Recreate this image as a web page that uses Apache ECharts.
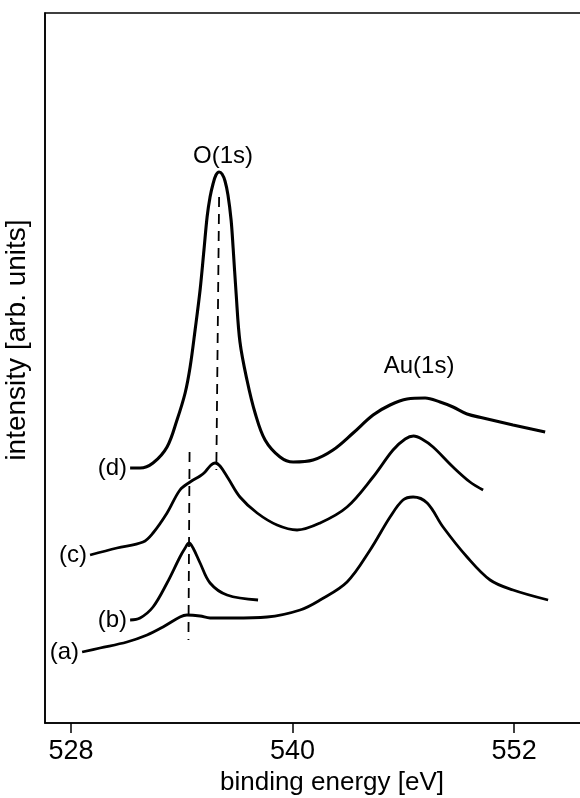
<!DOCTYPE html>
<html>
<head>
<meta charset="utf-8">
<script src="https://cdn.jsdelivr.net/npm/echarts@6/dist/echarts.min.js"></script>
<style>
  html, body { margin: 0; padding: 0; background: #fff; }
  #chart { width: 580px; height: 798px; }
</style>
</head>
<body>
<div id="chart"></div>
<script>
// binding energy [eV], intensity [arb. units]
const energyTicks = [528, 540, 552];

const curveD = [
  [531.20,255],[531.74,255],[532.44,260],[533.20,276],[533.74,303],[534.18,330],
  [534.45,356],[534.72,393],[534.99,433],[535.20,473],[535.37,506],[535.53,526],
  [535.69,539],[535.85,548],[536.02,551],[536.18,549],[536.34,542],[536.50,528],
  [536.67,503],[536.78,475],[536.94,430],[537.15,381],[537.53,343],[537.97,310],
  [538.51,283],[539.32,266],[540.03,261],[541.11,263],[542.19,273],[543.28,290],
  [544.36,308],[545.28,318],[546.20,324],[547.18,325],[547.99,321],[548.69,316],
  [549.45,309],[550.32,305],[551.94,298],[553.68,291]
];

const curveC = [
  [529.03,168],[530.49,175],[531.90,181],[532.44,190],[533.20,210],[533.90,233],
  [534.45,241],[534.99,247],[535.26,251],[535.53,257],[535.80,260],[536.07,257],
  [536.50,245],[537.15,226],[538.08,210],[539.16,198],[540.24,193],[541.49,200],
  [542.95,216],[544.36,246],[545.44,273],[546.10,284],[546.55,287],[547.00,284],
  [547.61,276],[548.69,256],[549.61,241],[550.32,233]
];

const curveB = [
  [531.20,103],[531.74,105],[532.44,116],[533.20,140],[533.90,166],[534.18,175],
  [534.39,180],[534.61,175],[534.99,160],[535.53,140],[536.45,128],[538.13,123]
];

const curveA = [
  [528.60,71],[529.57,75],[531.03,81],[532.12,88],[532.98,96],[533.90,106],
  [534.28,108],[534.99,107],[535.53,105],[536.78,105],[538.62,106],[540.41,113],
  [541.49,123],[542.95,141],[544.20,173],[545.28,206],[545.98,223],[546.53,226],
  [547.29,220],[548.15,196],[549.45,166],[550.70,143],[551.94,133],[553.84,123]
];

const dashLine1 = [[534.42,271],[534.36,83]];
const dashLine2 = [[536.02,526],[535.87,253]];

const curveNames = ['(a)', '(b)', '(c)', '(d)'];
const peakNames = ['O(1s)', 'Au(1s)'];
const peakPositions = [[536.23,567],[546.85,357]];

const FONT = 'Liberation Sans';
const chart = echarts.init(document.getElementById('chart'));

function curveSeries(name, data, width) {
  return {
    name: name,
    type: 'line',
    data: data,
    smooth: 0.35,
    showSymbol: false,
    symbol: 'none',
    lineStyle: { color: '#000', width: width },
    markPoint: {
      symbol: 'circle', symbolSize: 0,
      itemStyle: { color: '#000', opacity: 1 },
      data: [{ coord: data[0], name: name }],
      label: {
        show: true, position: 'left', distance: 3,
        formatter: name, color: '#000', fontSize: 24, fontFamily: FONT
      }
    },
    z: 3
  };
}

function dashSeries(data) {
  return {
    type: 'line',
    data: data,
    showSymbol: false,
    symbol: 'none',
    lineStyle: { color: '#000', width: 1.8, type: [10, 7] },
    z: 2
  };
}

const option = {
  backgroundColor: '#fff',
  animation: false,
  grid: {
    left: 45, top: 13, width: 574, bottom: 75,
    outerBoundsMode: 'none',
    containLabel: false,
    show: true, borderColor: '#000', borderWidth: 1.5, backgroundColor: 'transparent'
  },
  xAxis: {
    type: 'value',
    min: 526.59,
    max: 557.68,
    name: 'binding energy [eV]',
    nameLocation: 'middle',
    nameGap: 41,
    nameTextStyle: { color: '#000', fontSize: 26, fontFamily: FONT, verticalAlign: 'top' },
    axisLine: { show: true, onZero: false, lineStyle: { color: '#000', width: 1.6 } },
    axisTick: { show: true, inside: false, length: 10, customValues: energyTicks, lineStyle: { color: '#000', width: 1.5 } },
    axisLabel: { show: true, customValues: energyTicks, margin: 15, color: '#000', fontSize: 27, fontFamily: FONT },
    splitLine: { show: false }
  },
  yAxis: {
    type: 'value',
    min: 0,
    max: 710,
    name: 'intensity [arb. units]',
    nameLocation: 'middle',
    nameGap: 14,
    nameRotate: 90,
    nameTextStyle: { color: '#000', fontSize: 28, fontFamily: FONT, padding: [0, 0, 0, 56] },
    axisLine: { show: true, lineStyle: { color: '#000', width: 1.6 } },
    axisTick: { show: false },
    axisLabel: { show: false },
    splitLine: { show: false }
  },
  series: [
    curveSeries(curveNames[0], curveA, 2.8),
    curveSeries(curveNames[1], curveB, 2.8),
    curveSeries(curveNames[2], curveC, 2.8),
    curveSeries(curveNames[3], curveD, 3.1),
    dashSeries(dashLine1),
    dashSeries(dashLine2),
    {
      type: 'scatter',
      symbolSize: 0,
      itemStyle: { color: '#000', opacity: 1 },
      data: peakNames.map((n, i) => ({ name: n, value: peakPositions[i] })),
      label: {
        show: true, position: 'inside', formatter: '{b}',
        color: '#000', opacity: 1, fontSize: 24, fontFamily: FONT
      },
      z: 4
    }
  ]
};
chart.setOption(option);
</script>
</body>
</html>
